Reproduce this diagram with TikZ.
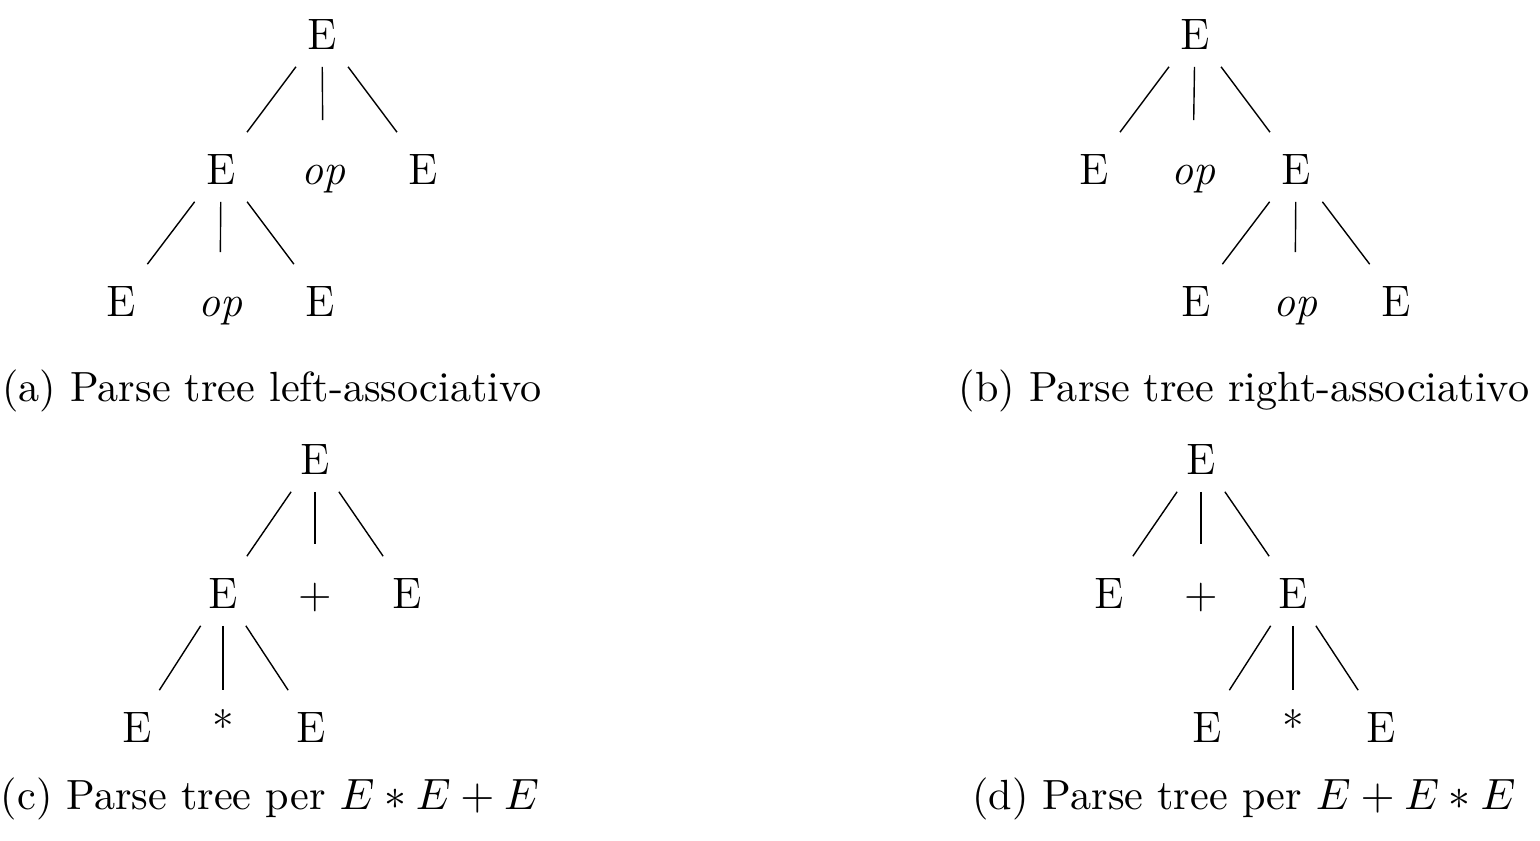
\documentclass[tikz,border=0pt]{standalone}
\begin{document}
\begin{tikzpicture}[x=0.25pt,y=-0.25pt,
  tn/.style={inner sep=0pt,text height=13pt,text depth=4pt,minimum width=15pt,anchor=base,font=\fontsize{11}{13}\selectfont},
  captxt/.style={inner sep=0pt,anchor=base,font=\fontsize{10.55}{13}\selectfont},
  lnk/.style={line width=0.35pt},
  midlnk/.style={line width=0.35pt,shorten >=3pt}]
\useasboundingbox (0,0) rectangle (1540,841);
% (a)
\node[tn] (a0) at (322,50) {E};
\node[tn] (a1) at (221,185) {E};
\node[tn] (a2) at (323,185) {\itshape op};
\node[tn] (a3) at (423,185) {E};
\node[tn] (a4) at (121,317) {E};
\node[tn] (a5) at (220,317) {\itshape op};
\node[tn] (a6) at (320,317) {E};
\draw[lnk] (a0) -- (a1); \draw[midlnk] (a0) -- (a2); \draw[lnk] (a0) -- (a3);
\draw[lnk] (a1) -- (a4); \draw[midlnk] (a1) -- (a5); \draw[lnk] (a1) -- (a6);
\node[captxt] (ca) at (272,402) {(a) Parse tree left-associativo};
% (b)
\node[tn] (b0) at (1195,50) {E};
\node[tn] (b1) at (1094,185) {E};
\node[tn] (b2) at (1193,185) {\itshape op};
\node[tn] (b3) at (1296,185) {E};
\node[tn] (b4) at (1196,317) {E};
\node[tn] (b5) at (1295,317) {\itshape op};
\node[tn] (b6) at (1396,317) {E};
\draw[lnk] (b0) -- (b1); \draw[midlnk] (b0) -- (b2); \draw[lnk] (b0) -- (b3);
\draw[lnk] (b3) -- (b4); \draw[midlnk] (b3) -- (b5); \draw[lnk] (b3) -- (b6);
\node[captxt] (cb) at (1244,402) {(b) Parse tree right-associativo};
% (c)
\node[tn] (c0) at (315,475) {E};
\node[tn] (c1) at (223,609) {E};
\node[tn] (c2) at (315,609) {+};
\node[tn] (c3) at (407,609) {E};
\node[tn] (c4) at (137,743) {E};
\node[tn] (c5) at (223,743) {*};
\node[tn] (c6) at (311,743) {E};
\draw[lnk] (c0) -- (c1); \draw[midlnk] (c0) -- (c2); \draw[lnk] (c0) -- (c3);
\draw[lnk] (c1) -- (c4); \draw[lnk] (c1) -- (c5); \draw[lnk] (c1) -- (c6);
\node[captxt] (cc) at (270,810) {(c) Parse tree per $E*E+E$};
% (d)
\node[tn] (d0) at (1201,475) {E};
\node[tn] (d1) at (1109,609) {E};
\node[tn] (d2) at (1201,609) {+};
\node[tn] (d3) at (1293,609) {E};
\node[tn] (d4) at (1207,743) {E};
\node[tn] (d5) at (1293,743) {*};
\node[tn] (d6) at (1381,743) {E};
\draw[lnk] (d0) -- (d1); \draw[midlnk] (d0) -- (d2); \draw[lnk] (d0) -- (d3);
\draw[lnk] (d3) -- (d4); \draw[lnk] (d3) -- (d5); \draw[lnk] (d3) -- (d6);
\node[captxt] (cd) at (1244,810) {(d) Parse tree per $E+E*E$};
\end{tikzpicture}
\end{document}
